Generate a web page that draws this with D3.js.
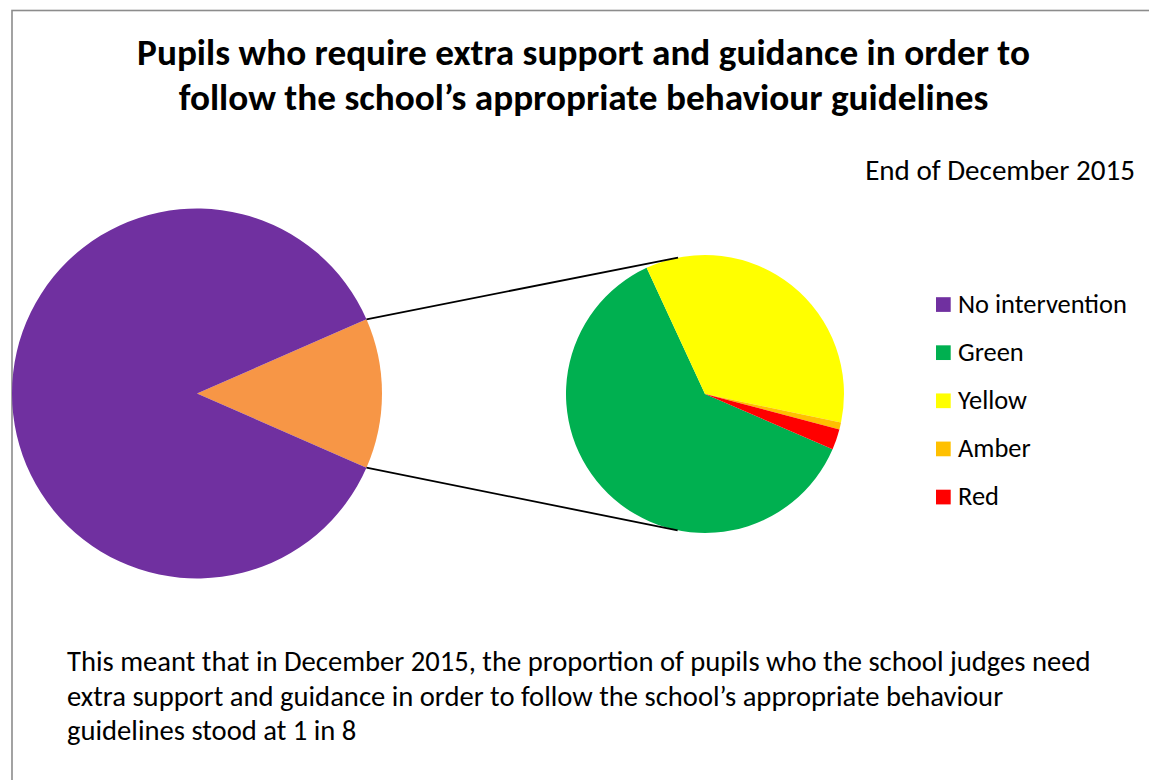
<!DOCTYPE html>
<html>
<head>
<meta charset="utf-8">
<script src="https://cdn.jsdelivr.net/npm/d3@7"></script>
<style>
  html, body { margin: 0; padding: 0; background: #fff; }
  svg { display: block; }
  text { font-family: Carlito, Calibri, Lato, "Open Sans", sans-serif; fill: #000; }
</style>
</head>
<body>
<svg id="chart" width="1149" height="780"></svg>
<script>
// ---- Data ----
const mainCategories = ["No intervention", "Other"];
const mainValues = [826, 125];
const subCategories = ["Green", "Yellow", "Amber", "Red"];
const subValues = [77, 44, 1, 3];
const legendLabels = ["No intervention", "Green", "Yellow", "Amber", "Red"];
const titleLines = [
  "Pupils who require extra support and guidance in order to",
  "follow the school\u2019s appropriate behaviour guidelines"
];
const subtitle = "End of December 2015";
const noteLines = [
  "This meant that in December 2015, the proportion of pupils who the school judges need",
  "extra support and guidance in order to follow the school\u2019s appropriate behaviour",
  "guidelines stood at 1 in 8"
];

// ---- Styles ----
const colors = {
  "No intervention": "#7030A0", "Other": "#F79646",
  "Green": "#00B050", "Yellow": "#FFFF00", "Amber": "#FFC000", "Red": "#FF0000"
};

const svg = d3.select("#chart");

// border
svg.append("rect").attr("x", 12).attr("y", 10.5).attr("width", 1300).attr("height", 900)
  .attr("fill", "none").attr("stroke", "#8c8c8c").attr("stroke-width", 1.6);

// helper: fit font size so that text has target width
function fitText(sel, targetW) {
  const base = 20;
  sel.style("font-size", base + "px");
  const w = sel.node().getComputedTextLength();
  const fs = base * targetW / w;
  sel.style("font-size", fs + "px");
  return fs;
}

// ---- Title ----
const t1 = svg.append("text").attr("x", 583.5).attr("y", 65).attr("text-anchor", "middle")
  .style("font-weight", "bold").text(titleLines[0]);
const tfs = fitText(t1, 893);
svg.append("text").attr("x", 583.5).attr("y", 110).attr("text-anchor", "middle")
  .style("font-weight", "bold").style("font-size", tfs + "px").text(titleLines[1]);

// ---- Subtitle ----
const st = svg.append("text").attr("x", 1135).attr("y", 180).attr("text-anchor", "end").text(subtitle);
fitText(st, 270);

// ---- Main pie ----
const mainCx = 197, mainCy = 393.5, mainR = 185;
const total = d3.sum(mainValues);
const otherFrac = mainValues[1] / total;
const mainStart = Math.PI / 2 - otherFrac * Math.PI;
const mainData = [
  { name: mainCategories[1], value: mainValues[1] },
  { name: mainCategories[0], value: mainValues[0] }
];
const mainPie = d3.pie().sort(null).value(d => d.value)
  .startAngle(mainStart).endAngle(mainStart + 2 * Math.PI);
const mainArc = d3.arc().innerRadius(0).outerRadius(mainR);
const gMain = svg.append("g").attr("transform", `translate(${mainCx},${mainCy})`);
const mainArcs = mainPie(mainData);
gMain.selectAll("path").data(mainArcs).join("path")
  .attr("d", mainArc).attr("fill", d => colors[d.data.name]);

// ---- Secondary pie ----
const subCx = 705, subCy = 394, subR = 139;
const subStart = 113.4 * Math.PI / 180;
const subData = subCategories.map((c, i) => ({ name: c, value: subValues[i] }));
const subPie = d3.pie().sort(null).value(d => d.value)
  .startAngle(subStart).endAngle(subStart + 2 * Math.PI);
const subArc = d3.arc().innerRadius(0).outerRadius(subR);
const gSub = svg.append("g").attr("transform", `translate(${subCx},${subCy})`);
gSub.selectAll("path").data(subPie(subData)).join("path")
  .attr("d", subArc).attr("fill", d => colors[d.data.name]);

// ---- Connector lines (tangent from "Other" slice edges to secondary pie) ----
const other = mainArcs[0];
function polar(cx, cy, r, a) { return [cx + r * Math.sin(a), cy - r * Math.cos(a)]; }
const pTop = polar(mainCx, mainCy, mainR, other.startAngle);
const pBot = polar(mainCx, mainCy, mainR, other.endAngle);
function tangent(p, sign) {
  const dx = p[0] - subCx, dy = p[1] - subCy;
  const d = Math.hypot(dx, dy);
  const base = Math.atan2(dy, dx);
  const off = Math.acos(subR / d);
  const a = base + sign * off;
  return [subCx + subR * Math.cos(a), subCy + subR * Math.sin(a)];
}
const tTop = tangent(pTop, 1);
const tBot = tangent(pBot, -1);
svg.append("line").attr("x1", pTop[0]).attr("y1", pTop[1]).attr("x2", tTop[0]).attr("y2", tTop[1])
  .attr("stroke", "#000").attr("stroke-width", 1.8);
svg.append("line").attr("x1", pBot[0]).attr("y1", pBot[1]).attr("x2", tBot[0]).attr("y2", tBot[1])
  .attr("stroke", "#000").attr("stroke-width", 1.8);

// ---- Legend ----
const legY = d3.scalePoint().domain(legendLabels).range([304.5, 497]);
const leg = svg.append("g");
const legItems = leg.selectAll("g").data(legendLabels).join("g")
  .attr("transform", d => `translate(0,${legY(d)})`);
legItems.append("rect").attr("x", 936).attr("y", -7.3).attr("width", 14.7).attr("height", 14.7)
  .attr("fill", d => colors[d]);
const legTexts = legItems.append("text").attr("x", 958).attr("y", 8).text(d => d);
const lfs = fitText(d3.select(legTexts.nodes()[0]), 169);
legTexts.style("font-size", lfs + "px");

// ---- Note ----
const noteY = [671, 706, 740];
const notes = svg.selectAll("text.note").data(noteLines).join("text").attr("class", "note")
  .attr("x", 67).attr("y", (d, i) => noteY[i]).text(d => d);
const nfs = fitText(d3.select(notes.nodes()[0]), 1024);
notes.style("font-size", nfs + "px");
</script>
</body>
</html>
